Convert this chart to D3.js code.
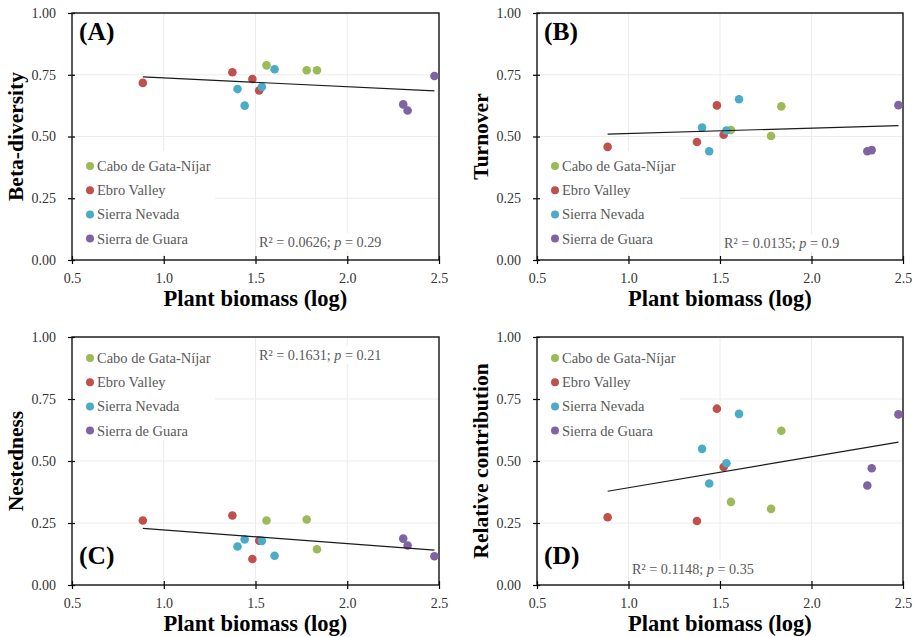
<!DOCTYPE html>
<html>
<head>
<meta charset="utf-8">
<script src="https://cdn.jsdelivr.net/npm/d3@7"></script>
<style>
  html, body { margin: 0; padding: 0; background: #fff; }
  svg { display: block; }
  text { font-family: "Liberation Serif", "Times New Roman", Times, Tinos, "Noto Serif", "DejaVu Serif", serif; }
</style>
</head>
<body>
<svg id="chart" width="916" height="637"></svg>
<script>
// ---------------- DATA ----------------
const sites = ["Cabo de Gata-Níjar", "Ebro Valley", "Sierra Nevada", "Sierra de Guara"];
const siteColors = ["#9BBB59", "#C0504D", "#4BACC6", "#8064A2"];

// site index of each plot (point)
const pointSite = [1, 1, 1, 1, 0, 0, 0, 2, 2, 2, 2, 3, 3, 3];
// Plant biomass (log) of each plot
const biomass = [0.886, 1.374, 1.483, 1.520, 1.560, 1.779, 1.835, 1.402, 1.441, 1.535, 1.604, 2.305, 2.329, 2.475];

const betaDiversity = [0.717, 0.760, 0.733, 0.686, 0.788, 0.768, 0.768, 0.692, 0.625, 0.701, 0.772, 0.630, 0.605, 0.745];
const turnover      = [0.458, 0.478, 0.626, 0.507, 0.526, 0.502, 0.622, 0.536, 0.440, 0.524, 0.651, 0.440, 0.445, 0.627];
const nestedness    = [0.260, 0.280, 0.105, 0.179, 0.260, 0.264, 0.144, 0.155, 0.184, 0.178, 0.118, 0.187, 0.159, 0.116];
const relContribution = [0.273, 0.258, 0.711, 0.476, 0.335, 0.307, 0.622, 0.549, 0.409, 0.491, 0.690, 0.401, 0.471, 0.688];

// linear trend lines: [x0, x1] and fitted values at those x
const trendX = [0.886, 2.475];
const trendBeta = [0.741, 0.685];
const trendTurnover = [0.510, 0.544];
const trendNested = [0.228, 0.141];
const trendRel = [0.378, 0.576];

const yTicks = [0, 0.25, 0.5, 0.75, 1.0];
const xTicks = [0.5, 1.0, 1.5, 2.0, 2.5];

const panels = [
  { label: "(A)", yTitle: "Beta-diversity", values: betaDiversity, trend: trendBeta, r2: "0.0626", p: "0.29",
    box: [72, 13, 367, 247], labelPos: "top", legendPos: "bottom", statPos: [259, 247] },
  { label: "(B)", yTitle: "Turnover", values: turnover, trend: trendTurnover, r2: "0.0135", p: "0.9",
    box: [537, 13, 366, 247], labelPos: "top", legendPos: "bottom", statPos: [724, 248] },
  { label: "(C)", yTitle: "Nestedness", values: nestedness, trend: trendNested, r2: "0.1631", p: "0.21",
    box: [72, 337, 367, 248], labelPos: "bottom", legendPos: "top", statPos: [259, 360] },
  { label: "(D)", yTitle: "Relative contribution", values: relContribution, trend: trendRel, r2: "0.1148", p: "0.35",
    box: [537, 337, 366, 248], labelPos: "bottom", legendPos: "top", statPos: [632, 574] }
];

// ---------------- DRAW ----------------
const svg = d3.select("#chart");

panels.forEach(pn => {
  const [L, T, W, H] = pn.box;
  const x = d3.scaleLinear().domain([0.5, 2.5]).range([L, L + W]);
  const y = d3.scaleLinear().domain([0, 1]).range([T + H, T]);
  const g = svg.append("g");

  // gridlines
  g.append("g").selectAll("line").data(xTicks.slice(1, -1)).join("line")
    .attr("x1", d => x(d)).attr("x2", d => x(d)).attr("y1", T).attr("y2", T + H)
    .attr("stroke", "#ececec").attr("stroke-width", 1);
  g.append("g").selectAll("line").data(yTicks.slice(1, -1)).join("line")
    .attr("x1", L).attr("x2", L + W).attr("y1", d => y(d)).attr("y2", d => y(d))
    .attr("stroke", "#ececec").attr("stroke-width", 1);

  // legend background
  const legY0 = pn.legendPos === "bottom" ? T + 138 : T + 1;
  g.append("rect").attr("x", L + 1).attr("y", legY0).attr("width", 142).attr("height", 102).attr("fill", "#fff");

  // stat background
  g.append("rect").attr("x", pn.statPos[0] - 3).attr("y", pn.statPos[1] - 14)
    .attr("width", 132).attr("height", 18).attr("fill", "#fff");

  // axes
  const xAxis = d3.axisBottom(x).tickValues(xTicks).tickFormat(d3.format(".1f")).tickSizeInner(4).tickSizeOuter(0).tickPadding(9);
  const gx = g.append("g").attr("transform", `translate(0,${T + H})`).call(xAxis);
  gx.selectAll(".tick line").attr("y1", -4).attr("y2", 4).attr("stroke", "#000").attr("stroke-width", 1.2);
  gx.select(".domain").remove();
  gx.selectAll("text").attr("font-size", 14).attr("fill", "#333").attr("dy", "0.71em");

  const yAxis = d3.axisLeft(y).tickValues(yTicks).tickFormat(d3.format(".2f")).tickSizeInner(4).tickSizeOuter(0).tickPadding(12);
  const gy = g.append("g").attr("transform", `translate(${L},0)`).call(yAxis);
  gy.selectAll(".tick line").attr("x1", -4).attr("x2", 3).attr("stroke", "#000").attr("stroke-width", 1.2);
  gy.select(".domain").remove();
  gy.selectAll("text").attr("font-size", 14).attr("fill", "#333");
  gx.attr("font-family", null);
  gy.attr("font-family", null);

  // frame
  g.append("rect").attr("x", L).attr("y", T).attr("width", W).attr("height", H)
    .attr("fill", "none").attr("stroke", "#111").attr("stroke-width", 1.4);

  // points
  g.append("g").selectAll("circle").data(biomass).join("circle")
    .attr("cx", d => x(d)).attr("cy", (d, i) => y(pn.values[i])).attr("r", 4.3)
    .attr("fill", (d, i) => siteColors[pointSite[i]]);

  // trend line
  g.append("line")
    .attr("x1", x(trendX[0])).attr("y1", y(pn.trend[0]))
    .attr("x2", x(trendX[1])).attr("y2", y(pn.trend[1]))
    .attr("stroke", "#1a1a1a").attr("stroke-width", 1.2);

  // legend
  const legRow0 = pn.legendPos === "bottom" ? T + 153 : T + 21;
  const leg = g.append("g").selectAll("g").data(sites).join("g")
    .attr("transform", (d, i) => `translate(${L + 18},${legRow0 + i * 24.2})`);
  leg.append("circle").attr("r", 4).attr("fill", (d, i) => siteColors[i]);
  leg.append("text").attr("x", 7).attr("dy", "0.35em").text(d => d)
    .attr("font-size", 14.5).attr("fill", "#595959");

  // stats text
  const st = g.append("text").attr("x", pn.statPos[0]).attr("y", pn.statPos[1])
    .attr("font-size", 14.2).attr("fill", "#595959");
  st.append("tspan").text(`R² = ${pn.r2}; `);
  st.append("tspan").attr("font-style", "italic").text("p");
  st.append("tspan").text(` = ${pn.p}`);

  // panel label
  const ly = pn.labelPos === "top" ? T + 27 : T + H - 21;
  g.append("text").attr("x", L + 7).attr("y", ly).text(pn.label)
    .attr("font-size", 25.5).attr("font-weight", "bold").attr("fill", "#000");

  // x title
  g.append("text").attr("x", L + W / 2).attr("y", T + H + 46).attr("text-anchor", "middle")
    .text("Plant biomass (log)")
    .attr("font-size", 22.5).attr("font-weight", "bold").attr("fill", "#000");

  // y title
  g.append("text").attr("transform", `translate(${L - 49},${T + H / 2}) rotate(-90)`)
    .attr("text-anchor", "middle").text(pn.yTitle)
    .attr("font-size", 21.5).attr("font-weight", "bold").attr("fill", "#000");
});
</script>
</body>
</html>
